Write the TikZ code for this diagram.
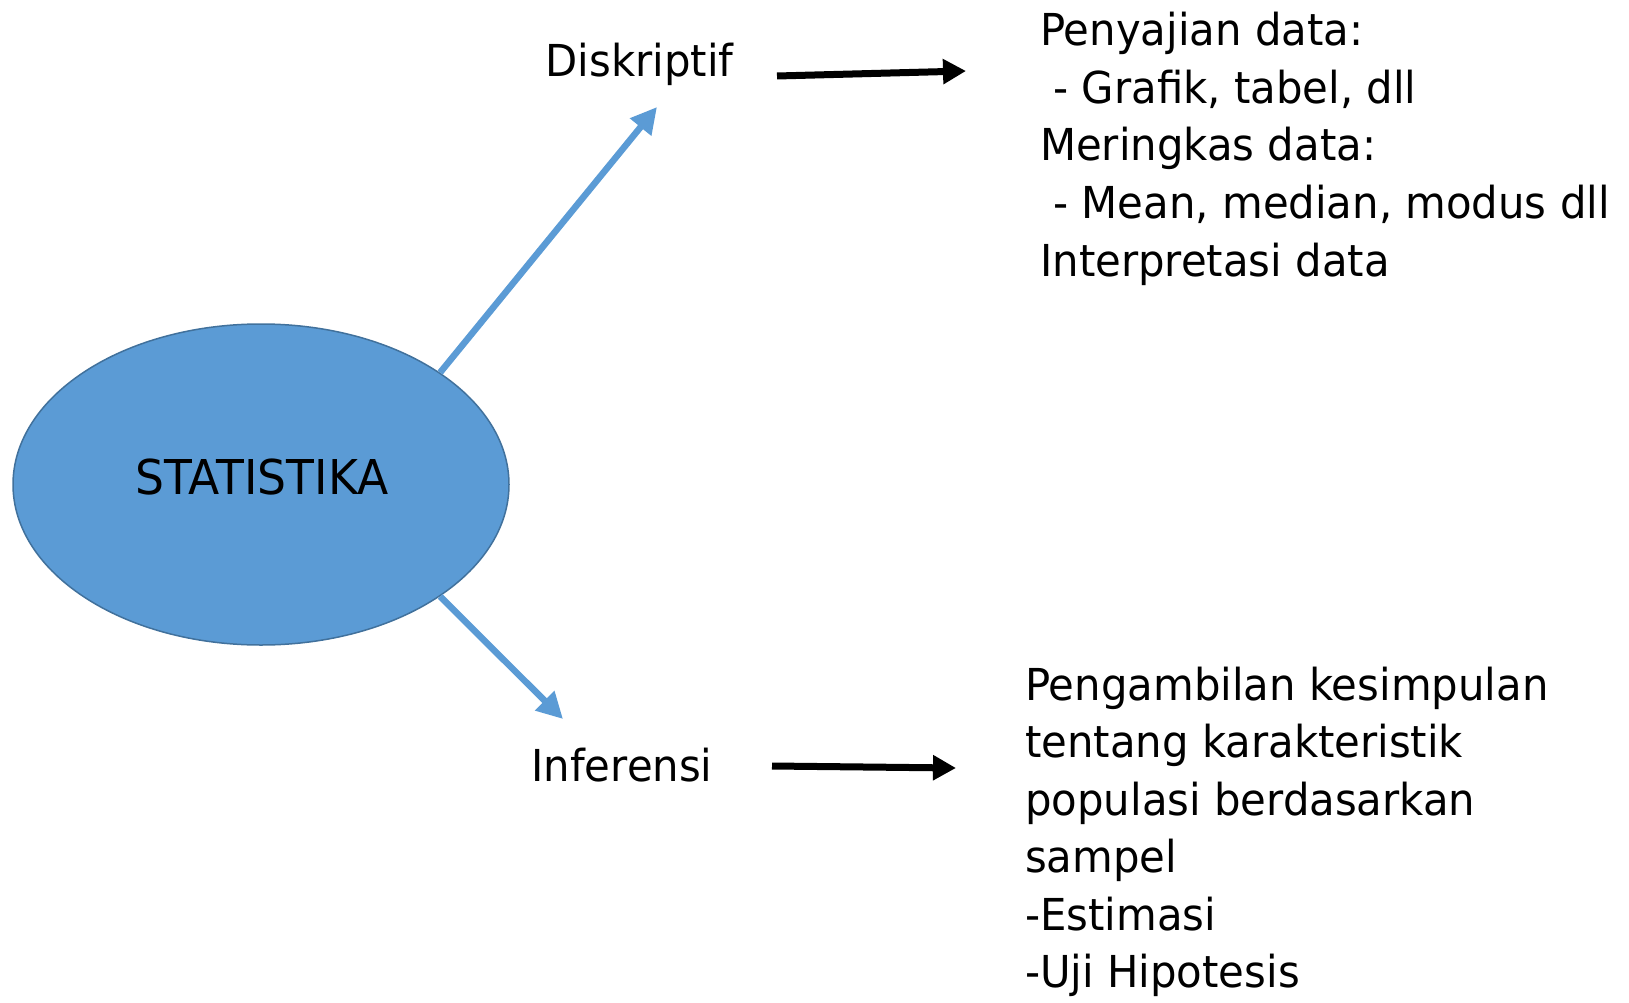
\documentclass[tikz,border=0pt]{standalone}
\usepackage{fontspec}
\setmainfont{DejaVu Sans}[FakeStretch=0.95]
\usetikzlibrary{shapes.geometric,arrows.meta}
\definecolor{fillblue}{HTML}{5B9BD5}
\definecolor{edgeblue}{HTML}{41719C}
\begin{document}
\begin{tikzpicture}[x=1pt,y=-1pt,
  lbl/.style={inner sep=0pt, font=\fontsize{44}{57.5}\selectfont},
  bluearrow/.style={draw=fillblue, line width=6.5pt, -{Triangle[length=26pt,width=26pt]}},
  blackarrow/.style={draw=black, line width=7pt, -{Triangle[length=23pt,width=24pt]}}]
\useasboundingbox (0,0) rectangle (1629,1003);
\node (s) [ellipse, fill=fillblue, draw=edgeblue, line width=1.5pt,
  minimum width=496pt, minimum height=321pt, inner sep=0pt] at (261,484.5) {};
\node (st) [inner sep=0pt, font=\fontsize{48}{60}\selectfont] at (262,477.5) {STATISTIKA};
\node (d) [lbl, anchor=base] at (639.5,77) {Diskriptif};
\node (i) [lbl, anchor=base] at (622,781) {Inferensi};
% base anchor of a multi-line node lies on its last line
\node (p1) [lbl, anchor=base west, align=left] at (1040,276)
  {Penyajian data:\\ \ - Grafik, tabel, dll\\Meringkas data:\\ \ - Mean, median, modus dll\\Interpretasi data};
\node (p2) [lbl, anchor=base west, align=left] at (1025,987.5)
  {Pengambilan kesimpulan\\tentang karakteristik\\populasi berdasarkan\\sampel\\-Estimasi\\-Uji Hipotesis};
\draw[bluearrow] (s.32.4) -- ([xshift=17.5pt,yshift=-30pt]d.base);
\draw[bluearrow] (s.-32.4) -- ([xshift=-59pt,yshift=62pt]i.base);
\draw[blackarrow] ([xshift=137.5pt,yshift=1pt]d.base) -- ([xshift=-74pt,yshift=205pt]p1.base west);
\draw[blackarrow] ([xshift=150pt,yshift=15pt]i.base) -- ([xshift=-69pt,yshift=219.5pt]p2.base west);
\end{tikzpicture}
\end{document}
